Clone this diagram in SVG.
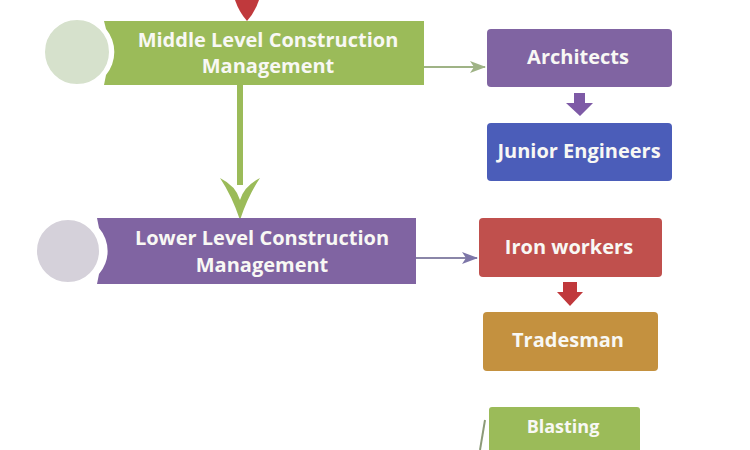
<svg xmlns="http://www.w3.org/2000/svg" width="750" height="450" viewBox="0 0 750 450">
<defs>
<style>
.t{font-family:"Open Sans","Liberation Sans",sans-serif;font-weight:bold;fill:#f8f8f4;text-anchor:middle;font-size:20px}
.ts{font-size:18px}
.circ{stroke:#ffffff;stroke-width:2}
</style>
<marker id="ag" viewBox="0 0 16 12" refX="15" refY="6" markerWidth="16" markerHeight="12" markerUnits="userSpaceOnUse" orient="auto">
<path d="M0,0 L16,6 L0,12 L4,6 Z" fill="#9fb386"/>
</marker>
<marker id="ap" viewBox="0 0 16 12" refX="15" refY="6" markerWidth="16" markerHeight="12" markerUnits="userSpaceOnUse" orient="auto">
<path d="M0,0 L16,6 L0,12 L4,6 Z" fill="#7d76a8"/>
</marker>
</defs>
<rect width="750" height="450" fill="#ffffff"/>
<g id="connectors">
<path d="M235,0 L259,0 Q255,12 247,21 Q239,12 235,0 Z" fill="#c0393c"/>
<rect x="237" y="85" width="6" height="100" fill="#9bbb59"/>
<path d="M220,178 Q236,186 240,200 Q244,186 260,178 Q248,196 240,220 Q232,196 220,178 Z" fill="#9bbb59"/>
<line x1="424" y1="67" x2="485" y2="67" stroke="#9fb386" stroke-width="2" marker-end="url(#ag)"/>
<line x1="416" y1="258" x2="477" y2="258" stroke="#8a86a8" stroke-width="2" marker-end="url(#ap)"/>
<path d="M574,93 L585,93 L585,103 L593,103 L580,116 L566,103 L574,103 Z" fill="#7e5aa6"/>
<path d="M563,282 L577,282 L577,292 L583,292 L570,306 L557,292 L563,292 Z" fill="#c0393c"/>
<line x1="485" y1="420" x2="480" y2="450" stroke="#8c9a78" stroke-width="2"/>
</g>
<g id="middle">
<path d="M104,21 L424,21 L424,85 L104,85 L106,75 A36 36 0 0 0 106,29 Z" fill="#9bbb59"/>
<circle class="circ" cx="77" cy="52" r="33" fill="#d6e1cc"/>
<text class="t" x="268" y="47">Middle Level Construction</text>
<text class="t" x="268" y="73">Management</text>
</g>
<g id="lower">
<path d="M97,218 L416,218 L416,284 L97,284 L99,274 A35 35 0 0 0 99,228 Z" fill="#8064a2"/>
<circle class="circ" cx="68" cy="251" r="32" fill="#d5d1da"/>
<text class="t" x="262" y="245">Lower Level Construction</text>
<text class="t" x="262" y="272">Management</text>
</g>
<g id="architects">
<rect x="487" y="29" width="185" height="58" rx="4" fill="#8064a2"/>
<text class="t" x="578" y="64">Architects</text>
</g>
<g id="junior">
<rect x="487" y="123" width="185" height="58" rx="4" fill="#4b5db9"/>
<text class="t" x="579" y="158">Junior Engineers</text>
</g>
<g id="iron">
<rect x="479" y="218" width="183" height="59" rx="4" fill="#c0504d"/>
<text class="t" x="569" y="254">Iron workers</text>
</g>
<g id="tradesman">
<rect x="483" y="312" width="175" height="59" rx="4" fill="#c4913f"/>
<text class="t" x="568" y="347">Tradesman</text>
</g>
<g id="blasting">
<rect x="489" y="407" width="151" height="50" rx="3" fill="#9bbb59"/>
<text class="t ts" x="563" y="433">Blasting</text>
</g>
</svg>
